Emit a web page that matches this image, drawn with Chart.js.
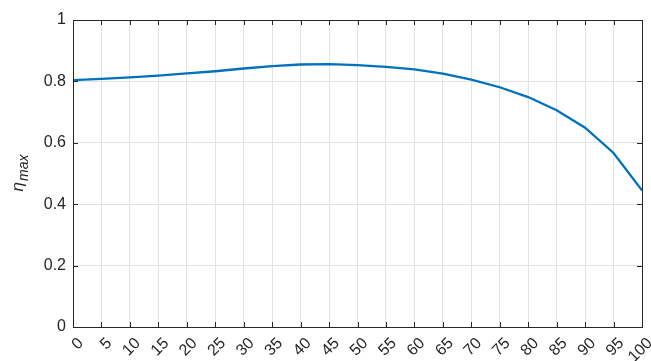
<!DOCTYPE html>
<html>
<head>
<meta charset="utf-8">
<script src="https://cdn.jsdelivr.net/npm/chart.js@4"></script>
<style>
  html, body { margin: 0; padding: 0; background: #fff; overflow: hidden; }
  #wrap { width: 651px; height: 361px; position: relative; }
</style>
</head>
<body>
<div id="wrap"><canvas id="c"></canvas></div>
<script>
// Load fraction (x) and maximum efficiency at each point
const xValues = [0, 5, 10, 15, 20, 25, 30, 35, 40, 45, 50, 55, 60, 65, 70, 75, 80, 85, 90, 95, 100];
const etaMax = [0.804, 0.808, 0.813, 0.819, 0.826, 0.833, 0.842, 0.850, 0.855, 0.856, 0.853,
                0.847, 0.839, 0.825, 0.806, 0.781, 0.749, 0.706, 0.649, 0.567, 0.445];
const yTicks = [0, 0.2, 0.4, 0.6, 0.8, 1];

const AXIS = '#262626';
const FONT = '"Liberation Sans", Arial, Helvetica, sans-serif';

// Box around the plot with inward-pointing ticks on all four sides
const boxTicks = {
  id: 'boxTicks',
  afterDraw(chart) {
    const { ctx, chartArea: a, scales } = chart;
    const len = 5;
    ctx.save();
    ctx.strokeStyle = AXIS;
    ctx.lineWidth = 1;
    ctx.beginPath();
    scales.x.ticks.forEach(t => {
      const px = Math.round(scales.x.getPixelForValue(t.value)) + 0.5;
      ctx.moveTo(px, a.bottom); ctx.lineTo(px, a.bottom - len);
      ctx.moveTo(px, a.top); ctx.lineTo(px, a.top + len);
    });
    scales.y.ticks.forEach(t => {
      const py = Math.round(scales.y.getPixelForValue(t.value)) + 0.5;
      ctx.moveTo(a.left, py); ctx.lineTo(a.left + len, py);
      ctx.moveTo(a.right, py); ctx.lineTo(a.right - len, py);
    });
    ctx.stroke();
    ctx.strokeRect(Math.round(a.left) + 0.5, Math.round(a.top) + 0.5,
                   Math.round(a.right - a.left), Math.round(a.bottom - a.top));
    ctx.restore();
  }
};

// Y-axis title: italic eta with "max" subscript, rotated
const yTitle = {
  id: 'yTitle',
  afterDraw(chart) {
    const { ctx, chartArea: a } = chart;
    const cy = (a.top + a.bottom) / 2;
    ctx.save();
    ctx.fillStyle = AXIS;
    ctx.translate(23, cy);
    ctx.rotate(-Math.PI / 2);
    ctx.textBaseline = 'alphabetic';
    ctx.font = 'italic 17px ' + FONT;
    const w1 = ctx.measureText('\u03B7').width;
    ctx.font = 'italic 14px ' + FONT;
    const w2 = ctx.measureText('max').width;
    const start = -(w1 + w2) / 2;
    ctx.font = 'italic 17px ' + FONT;
    ctx.fillText('\u03B7', start, 0);
    ctx.font = 'italic 14px ' + FONT;
    ctx.fillText('max', start + w1 + 1, 5);
    ctx.restore();
  }
};

new Chart(document.getElementById('c'), {
  type: 'line',
  data: {
    datasets: [{
      data: xValues.map((x, i) => ({ x, y: etaMax[i] })),
      borderColor: '#0072BD',
      borderWidth: 2.3,
      pointRadius: 0,
      tension: 0,
      fill: false
    }]
  },
  options: {
    responsive: true,
    maintainAspectRatio: false,
    animation: false,
    events: [],
    layout: { padding: { left: 0, right: 9, top: 20, bottom: 0 } },
    plugins: { legend: { display: false }, tooltip: { enabled: false } },
    scales: {
      x: {
        type: 'linear',
        min: 0, max: 100,
        afterBuildTicks(s) { s.ticks = xValues.map(v => ({ value: v })); },
        afterFit(s) { s.height = 34; s.paddingLeft = 0; s.paddingRight = 0; },
        grid: { color: '#e3e3e3', lineWidth: 1, drawTicks: false },
        border: { display: false },
        ticks: {
          color: AXIS,
          font: { family: FONT, size: 16 },
          minRotation: 45, maxRotation: 45,
          padding: 7,
          labelOffset: 8,
          autoSkip: false,
          callback: v => String(v)
        }
      },
      y: {
        min: 0, max: 1,
        afterBuildTicks(s) { s.ticks = yTicks.map(v => ({ value: v })); },
        afterFit(s) { s.width = 73; },
        grid: { color: '#e3e3e3', lineWidth: 1, drawTicks: false },
        border: { display: false },
        ticks: {
          color: AXIS,
          font: { family: FONT, size: 16 },
          padding: 7,
          callback: v => String(v)
        }
      }
    }
  },
  plugins: [boxTicks, yTitle]
});
</script>
</body>
</html>
